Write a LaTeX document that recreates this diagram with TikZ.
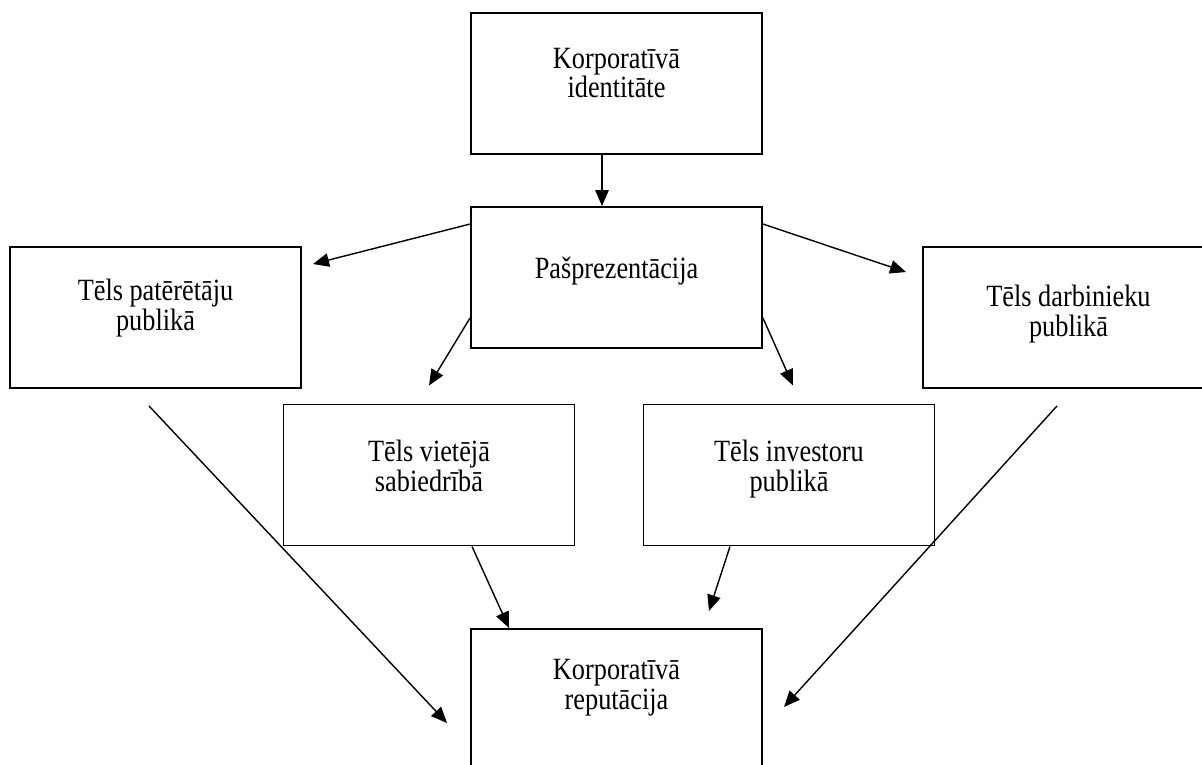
\documentclass[tikz,border=0pt]{standalone}
\usepackage{fontspec}
\setmainfont[FakeStretch=0.85]{Liberation Serif}
\usepackage{tikz}
\usetikzlibrary{arrows.meta, positioning, calc}

\begin{document}
\begin{tikzpicture}[
    box/.style={rectangle, draw=black, line width=1.1pt, minimum width=5.82cm, minimum height=2.82cm, inner sep=0pt, align=center, font=\fontsize{17.6}{17}\selectfont},
    arrow/.style={-{Triangle[length=0.32cm, width=0.27cm]}, line width=0.8pt, #1},
    arrow/.default={black}
]
\clip (0, 0) rectangle (24.04, -15.3);

% === IDENTITĀTE UN PAŠPREZENTĀCIJA ===
\node[box, text height=1.70cm, text depth=1.12cm] (ident) at (12.33, -1.67) {Korporatīvā\\identitāte};
\node[box, text height=1.42cm, text depth=1.40cm] (pasp) at (12.33, -5.55) {Pašprezentācija};

% === TĒLI ===
\node[box, text height=1.66cm, text depth=1.16cm] (pat) at (3.11, -6.35) {Tēls patērētāju\\publikā};
\node[box, text height=1.78cm, text depth=1.04cm] (darb) at (21.37, -6.35) {Tēls darbinieku\\publikā};
\node[box, text height=1.74cm, text depth=1.08cm] (viet) at (8.58, -9.5) {Tēls vietējā\\sabiedrībā};
\node[box, text height=1.74cm, text depth=1.08cm] (inv) at (15.78, -9.5) {Tēls investoru\\publikā};

% === REPUTĀCIJA ===
\node[box, text height=1.60cm, text depth=1.22cm] (rep) at (12.33, -13.99) {Korporatīvā\\reputācija};

% === FLECHAS ===
\draw[arrow] ([xshift=-0.29cm] ident.south) -- ([xshift=-0.29cm] pasp.north);
\draw[arrow] ([yshift=-0.36cm] pasp.north west) -- ([xshift=0.22cm, yshift=-0.36cm] pat.north east);
\draw[arrow] ([yshift=-0.36cm] pasp.north east) -- ([xshift=-0.32cm, yshift=-0.52cm] darb.north west);
\draw[arrow] ([yshift=0.62cm] pasp.south west) -- ([yshift=0.36cm] viet.north);
\draw[arrow] ([yshift=0.62cm] pasp.south east) -- ([xshift=0.08cm, yshift=0.36cm] inv.north);

\draw[arrow] ([xshift=-0.13cm, yshift=-0.34cm] pat.south) -- ([xshift=-0.46cm, yshift=-0.47cm] rep.west);
\draw[arrow] ([xshift=-0.23cm, yshift=-0.34cm] darb.south) -- ([xshift=0.42cm, yshift=-0.15cm] rep.east);
\draw[arrow] ([xshift=0.86cm] viet.south) -- ([xshift=0.78cm] rep.north west);
\draw[arrow] ([xshift=-1.18cm] inv.south) -- ([xshift=-1.08cm, yshift=0.34cm] rep.north east);

\end{tikzpicture}
\end{document}
